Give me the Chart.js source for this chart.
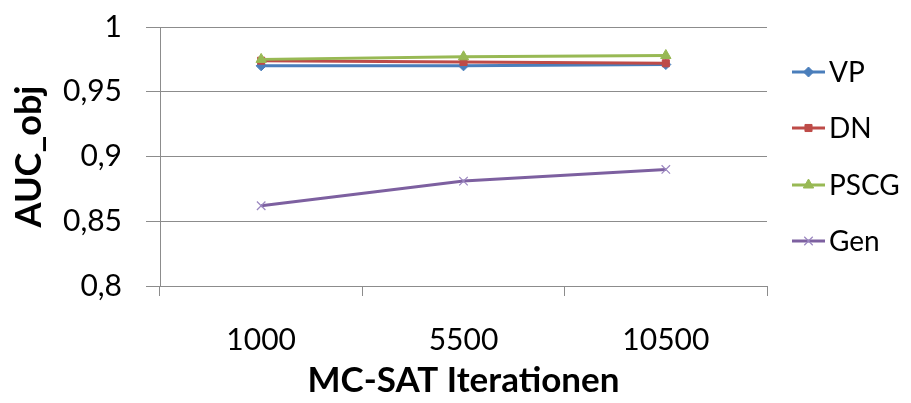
<!DOCTYPE html>
<html>
<head>
<meta charset="utf-8">
<script src="https://cdn.jsdelivr.net/npm/chart.js@4.4.1/dist/chart.umd.min.js"></script>
<style>
html,body{margin:0;padding:0;background:#fff;}
#wrap{width:911px;height:403px;position:relative;}
</style>
</head>
<body>
<div id="wrap"><canvas id="c" width="911" height="403"></canvas></div>
<script>
const categories = ['1000', '5500', '10500'];
const seriesNames = ['VP', 'DN', 'PSCG', 'Gen'];
const vpValues = [0.970, 0.970, 0.971];
const dnValues = [0.974, 0.973, 0.972];
const pscgValues = [0.975, 0.977, 0.978];
const genValues = [0.862, 0.881, 0.890];
const yTicks = [0.8, 0.85, 0.9, 0.95, 1];
const yTickLabels = ['0,8', '0,85', '0,9', '0,95', '1'];
const xTitle = 'MC-SAT Iterationen';
const yTitle = 'AUC_obj';

const colors = ['#4A7EBB', '#BE4B48', '#98B954', '#7D60A0'];
const markers = ['rectRot', 'rect', 'triangle', 'crossRot'];
const radii = [5, 5, 6, 6];
const FONT = 'Lato';

const values = [vpValues, dnValues, pscgValues, genValues];
const datasets = seriesNames.map((name, i) => ({
  label: name,
  data: values[i],
  borderColor: colors[i],
  backgroundColor: colors[i],
  pointBackgroundColor: colors[i],
  pointBorderColor: i === 3 ? '#9b87c0' : colors[i],
  pointBorderWidth: i === 3 ? 1.2 : 1,
  pointStyle: markers[i],
  pointRadius: radii[i],
  borderWidth: 3,
  tension: 0,
  order: 3 - i
}));

const legendPlugin = {
  id: 'excelLegend',
  afterDraw(chart) {
    const ctx = chart.ctx;
    const ys = [72, 128, 185, 241];
    ctx.save();
    chart.data.datasets.forEach((ds, i) => {
      const y = ys[i];
      ctx.strokeStyle = ds.borderColor;
      ctx.lineWidth = 3;
      ctx.beginPath();
      ctx.moveTo(792, y);
      ctx.lineTo(825, y);
      ctx.stroke();
      ctx.fillStyle = ds.pointBackgroundColor;
      ctx.strokeStyle = ds.pointBorderColor;
      ctx.lineWidth = ds.pointBorderWidth;
      Chart.helpers.drawPoint(ctx, {
        pointStyle: ds.pointStyle,
        radius: ds.pointRadius,
        borderWidth: ds.pointBorderWidth
      }, 808.5, y);
      ctx.fillStyle = '#000';
      ctx.font = '28px ' + FONT;
      ctx.textAlign = 'left';
      ctx.textBaseline = 'middle';
      ctx.fillText(ds.label, 829, y + 1);
    });
    ctx.restore();
  }
};

new Chart(document.getElementById('c'), {
  type: 'line',
  data: { labels: categories, datasets },
  options: {
    responsive: false,
    animation: false,
    devicePixelRatio: 1,
    layout: { padding: { top: 27, right: 144, left: 0, bottom: 0 } },
    plugins: { legend: { display: false }, tooltip: { enabled: false } },
    scales: {
      x: {
        offset: true,
        grid: { offset: true, drawOnChartArea: false, drawTicks: true, tickLength: 10, color: '#8c8c8c', lineWidth: 1 },
        border: { color: '#8c8c8c', width: 1 },
        ticks: { color: '#000', font: { family: FONT, size: 30 }, padding: 26, maxRotation: 0 },
        title: { display: true, text: xTitle, color: '#000', font: { family: FONT, size: 35, weight: 'bold' }, padding: { top: 0, bottom: 1 } },
        afterFit(scale) { scale.height = 117; }
      },
      y: {
        min: 0.8, max: 1,
        afterBuildTicks(scale) { scale.ticks = yTicks.map(v => ({ value: v })); },
        grid: { drawTicks: true, tickLength: 14, color: '#8c8c8c', lineWidth: 1 },
        border: { color: '#8c8c8c', width: 1 },
        ticks: {
          color: '#000', font: { family: FONT, size: 30 }, padding: 24,
          callback: (v) => { const k = yTicks.findIndex(t => Math.abs(t - v) < 1e-9); return k >= 0 ? yTickLabels[k] : ''; }
        },
        title: { display: true, text: yTitle, color: '#000', font: { family: FONT, size: 36, weight: 'bold' }, padding: { top: 8, bottom: 0 } },
        afterFit(scale) { scale.width = 160; scale.paddingTop = 0; scale.paddingBottom = 0; }
      }
    }
  },
  plugins: [legendPlugin]
});
</script>
</body>
</html>
